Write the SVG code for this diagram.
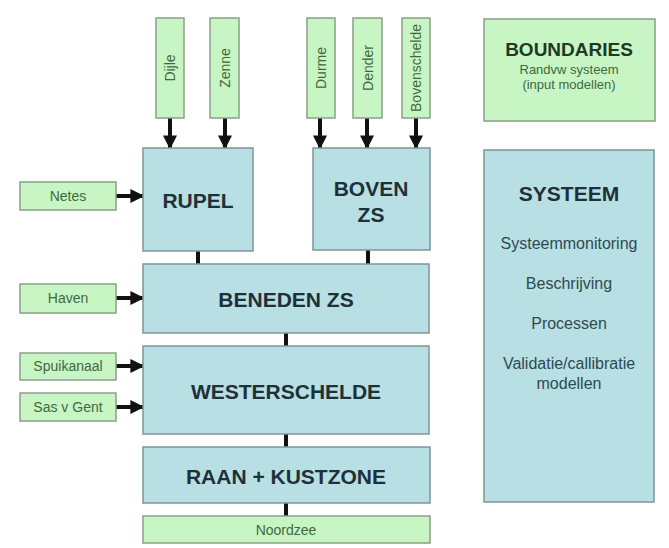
<svg xmlns="http://www.w3.org/2000/svg" width="669" height="548" viewBox="0 0 669 548">
<defs>
<style>
.g{fill:#c8f5c4;stroke:#8a9e88;stroke-width:1.5}
.b{fill:#b8dfe3;stroke:#7f9597;stroke-width:1.5}
.st{font-family:"Liberation Sans",Arial,sans-serif;font-size:14px;fill:#3d6a3d;text-anchor:middle}
.big{font-family:"Liberation Sans",Arial,sans-serif;font-size:21px;font-weight:bold;fill:#1e3038;text-anchor:middle}
.sm{font-family:"Liberation Sans",Arial,sans-serif;font-size:16px;fill:#2e4a50;text-anchor:middle}
.ln{stroke:#111;stroke-width:4;fill:none}
.ar{stroke:#111;stroke-width:4;fill:none;marker-end:url(#ah)}
</style>
<marker id="ah" viewBox="0 0 10 10" refX="9" refY="5" markerWidth="3.5" markerHeight="3.5" orient="auto" markerUnits="strokeWidth">
<path d="M0,0 L10,5 L0,10 z" fill="#111"/>
</marker>
</defs>
<rect width="669" height="548" fill="#ffffff"/>

<g id="connectors">
<line class="ar" x1="170" y1="118" x2="170" y2="148"/>
<line class="ar" x1="225" y1="118" x2="225" y2="148"/>
<line class="ar" x1="320" y1="118" x2="320" y2="148"/>
<line class="ar" x1="367" y1="118" x2="367" y2="148"/>
<line class="ar" x1="416" y1="118" x2="416" y2="148"/>
<line class="ar" x1="116" y1="196" x2="143" y2="196"/>
<line class="ar" x1="116" y1="298" x2="143" y2="298"/>
<line class="ar" x1="116" y1="366" x2="143" y2="366"/>
<line class="ar" x1="116" y1="407" x2="143" y2="407"/>
<line class="ln" x1="198" y1="251" x2="198" y2="264"/>
<line class="ln" x1="368" y1="250" x2="368" y2="264"/>
<line class="ln" x1="286" y1="333" x2="286" y2="346"/>
<line class="ln" x1="286" y1="434" x2="286" y2="447"/>
<line class="ln" x1="286" y1="503" x2="286" y2="516"/>
</g>

<g id="dijle"><rect class="g" x="156" y="18" width="28" height="100"/><text class="st" transform="translate(175,68) rotate(-90)">Dijle</text></g>
<g id="zenne"><rect class="g" x="210" y="18" width="29" height="100"/><text class="st" transform="translate(229.5,68) rotate(-90)">Zenne</text></g>
<g id="durme"><rect class="g" x="307" y="18" width="28" height="100"/><text class="st" transform="translate(326,68) rotate(-90)">Durme</text></g>
<g id="dender"><rect class="g" x="353" y="18" width="29" height="100"/><text class="st" transform="translate(372.5,68) rotate(-90)">Dender</text></g>
<g id="bovenschelde"><rect class="g" x="402" y="18" width="28" height="100"/><text class="st" transform="translate(421,68) rotate(-90)">Bovenschelde</text></g>

<g id="netes"><rect class="g" x="20" y="182" width="96" height="28"/><text class="st" x="68" y="201">Netes</text></g>
<g id="haven"><rect class="g" x="20" y="284" width="96" height="29"/><text class="st" x="68" y="303">Haven</text></g>
<g id="spuikanaal"><rect class="g" x="20" y="353" width="96" height="27"/><text class="st" x="68" y="371">Spuikanaal</text></g>
<g id="sasvgent"><rect class="g" x="20" y="393" width="96" height="28"/><text class="st" x="68" y="412">Sas v Gent</text></g>

<g id="rupel"><rect class="b" x="143" y="148" width="110" height="103"/><text class="big" x="198" y="208">RUPEL</text></g>
<g id="bovenzs"><rect class="b" x="313" y="148" width="117" height="102"/><text class="big" x="371" y="195.5">BOVEN</text><text class="big" x="371" y="221.5">ZS</text></g>
<g id="benedenzs"><rect class="b" x="143" y="264" width="286" height="69"/><text class="big" x="286" y="306.5">BENEDEN ZS</text></g>
<g id="westerschelde"><rect class="b" x="143" y="346" width="286" height="88"/><text class="big" x="286" y="398.5">WESTERSCHELDE</text></g>
<g id="raan"><rect class="b" x="143" y="447" width="287" height="56"/><text class="big" x="286" y="483.5">RAAN + KUSTZONE</text></g>
<g id="noordzee"><rect class="g" x="143" y="516" width="287" height="27"/><text class="st" x="286" y="535">Noordzee</text></g>

<g id="boundaries"><rect class="g" x="484" y="19" width="171" height="102"/>
<text x="569" y="56" style="font-family:'Liberation Sans',Arial,sans-serif;font-size:19px;font-weight:bold;fill:#1e3a22;text-anchor:middle">BOUNDARIES</text>
<text x="569" y="74" style="font-family:'Liberation Sans',Arial,sans-serif;font-size:13px;fill:#3d6a3d;text-anchor:middle">Randvw systeem</text>
<text x="569" y="89" style="font-family:'Liberation Sans',Arial,sans-serif;font-size:13px;fill:#3d6a3d;text-anchor:middle">(input modellen)</text>
</g>
<g id="systeem"><rect class="b" x="484" y="150" width="170" height="352"/>
<text class="big" x="569" y="200.5">SYSTEEM</text>
<text class="sm" x="569" y="249">Systeemmonitoring</text>
<text class="sm" x="569" y="289">Beschrijving</text>
<text class="sm" x="569" y="329">Processen</text>
<text class="sm" x="569" y="369">Validatie/callibratie</text>
<text class="sm" x="569" y="389">modellen</text>
</g>
</svg>
